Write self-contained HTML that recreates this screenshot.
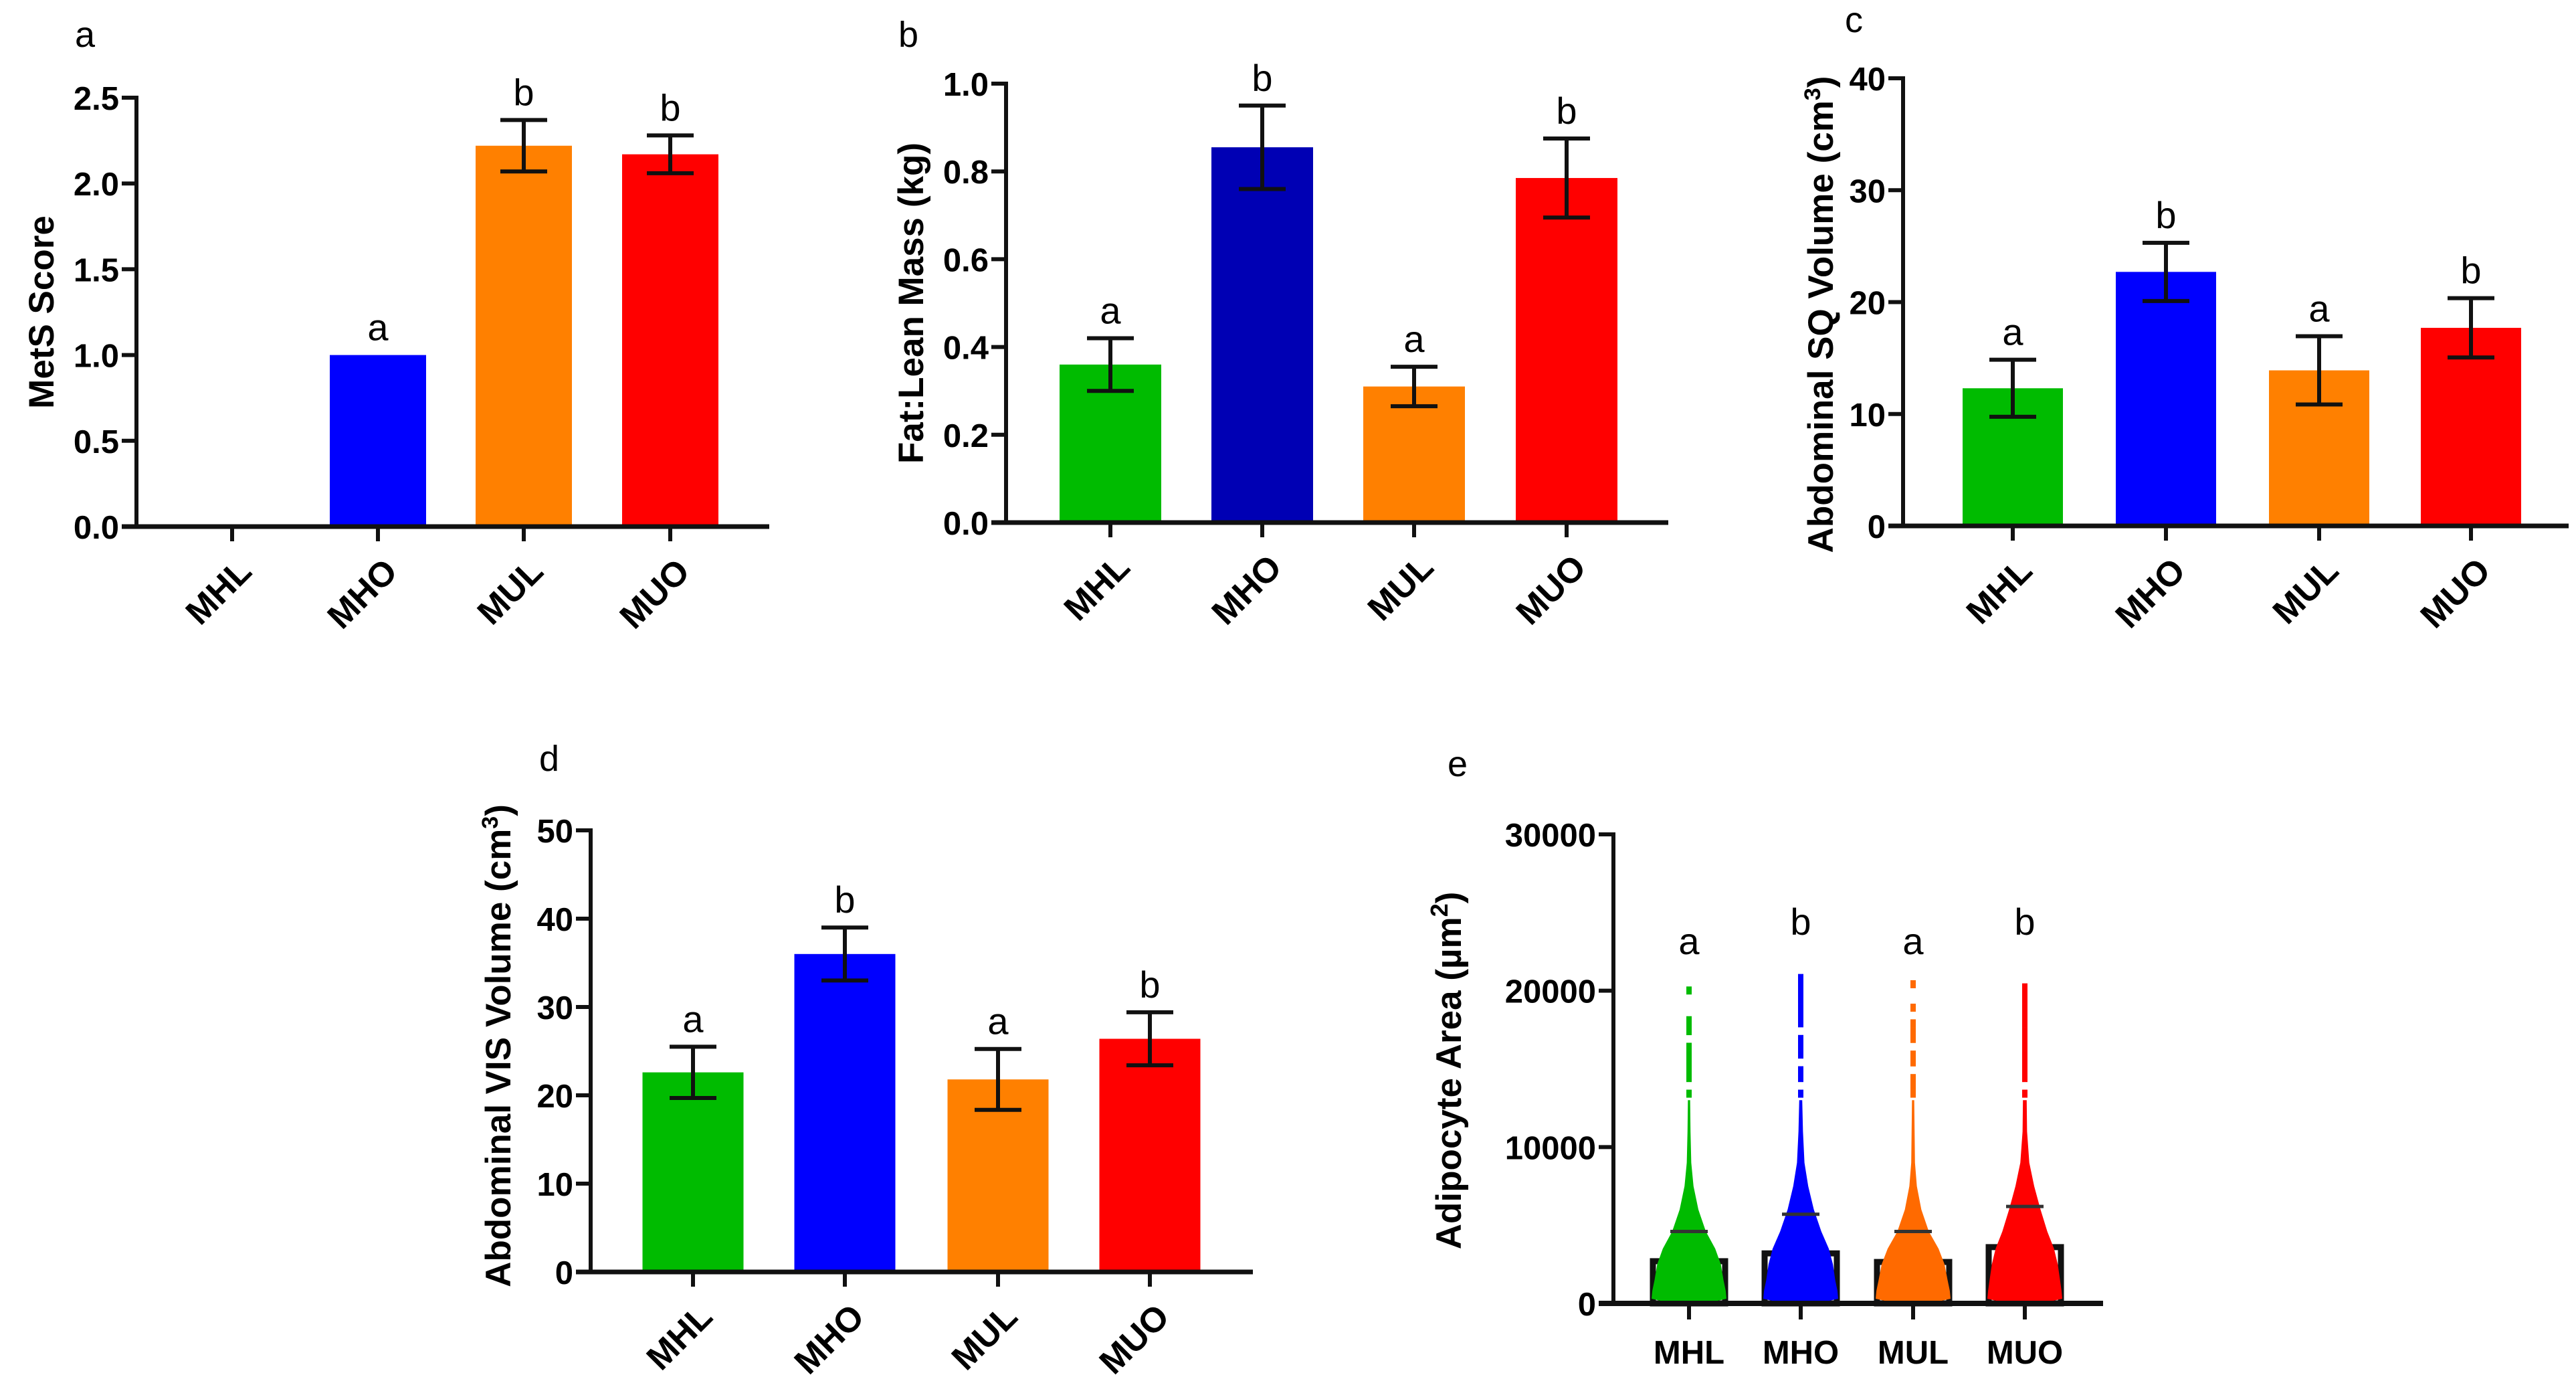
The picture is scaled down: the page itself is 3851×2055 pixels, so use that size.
<!DOCTYPE html>
<html><head><meta charset="utf-8"><style>
html,body{margin:0;padding:0;background:#fff}
svg{display:block}
text{font-family:"Liberation Sans",Arial,sans-serif;fill:#000}
.tk{font-weight:bold;font-size:49px}
.xl{font-weight:bold;font-size:52px}
.ttl{font-weight:bold;font-size:53px}
.sig{font-size:56px}
.pl{font-size:54px}
</style></head><body>
<svg id="fig" width="3851" height="2055" viewBox="0 0 3851 2055" xmlns="http://www.w3.org/2000/svg"></svg>
<script>
const cats = ["MHL","MHO","MUL","MUO"];
const colA = ["#00bb00","#0000ff","#ff8000","#ff0000"];
const colB = ["#00bb00","#0000b4","#ff8000","#ff0000"];
// panel a
const aVals = [0, 1.0, 2.22, 2.17];
const aErr = [0, 0, 0.15, 0.11];
const aSig = ["", "a", "b", "b"];
const aTicks = [0, 0.5, 1.0, 1.5, 2.0, 2.5];
const aTickLabels = ["0.0","0.5","1.0","1.5","2.0","2.5"];
// panel b
const bVals = [0.36, 0.855, 0.31, 0.785];
const bErr = [0.06, 0.095, 0.045, 0.09];
const bSig = ["a","b","a","b"];
const bTicks = [0,0.2,0.4,0.6,0.8,1.0];
const bTickLabels = ["0.0","0.2","0.4","0.6","0.8","1.0"];
// panel c
const cVals = [12.3, 22.7, 13.9, 17.7];
const cErr = [2.55, 2.6, 3.05, 2.65];
const cSig = ["a","b","a","b"];
const cTicks = [0,10,20,30,40];
const cTickLabels = ["0","10","20","30","40"];
// panel d
const dVals = [22.6, 36.0, 21.8, 26.4];
const dErr = [2.9, 3.0, 3.45, 3.0];
const dSig = ["a","b","a","b"];
const dTicks = [0,10,20,30,40,50];
const dTickLabels = ["0","10","20","30","40","50"];
// panel e
const eMeans = [2700, 3200, 2650, 3600];
const eSD = [4600, 5700, 4600, 6200];
const eMax = [20100, 20900, 20500, 20300];
const eSig = ["a","b","a","b"];
const eTicks = [0,10000,20000,30000];
const eTickLabels = ["0","10000","20000","30000"];
const eProfileVals = [0, 300, 800, 1500, 2500, 3500, 4600, 6000, 7500, 9000, 11000, 13000];
const eProfileW = [
 [0.45,1.0,0.98,0.92,0.85,0.7,0.45,0.25,0.12,0.06,0.04,0.03],
 [0.45,1.0,0.98,0.92,0.86,0.75,0.55,0.35,0.2,0.1,0.06,0.04],
 [0.45,1.0,0.98,0.92,0.84,0.68,0.42,0.22,0.1,0.05,0.04,0.03],
 [0.45,1.0,0.98,0.94,0.88,0.78,0.6,0.42,0.25,0.12,0.06,0.05]];
const eSparse = [
 [13500,14500,15000,15500,16000,16500,17500,17800,18200,20100],
 [13500,14500,15000,16000,16500,17000,18000,18500,19000,19500,20000,20500,20900],
 [13500,14000,14500,15500,16000,17000,17500,18000,19000,20500],
 [13500,14500,15000,15500,16000,16500,17000,17500,18000,18500,19000,19500,20000,20300]];

const NS="http://www.w3.org/2000/svg";
const svg=document.getElementById('fig');
function mk(tag,attrs,parent){const e=document.createElementNS(NS,tag);for(const k in attrs)e.setAttribute(k,attrs[k]);(parent||svg).appendChild(e);return e;}
function txt(s,attrs,parent){const e=mk('text',attrs,parent);e.textContent=s;return e;}

function barPanel(p){
  const g=mk('g',{});
  
  
  const y=v=>p.y0-(v-p.min)/(p.max-p.min)*(p.y0-p.y1);
  const pl=txt(p.letter,{x:p.lx,y:p.ly,class:'pl'},g);
  
  
  p.vals.forEach((v,i)=>{
    const cx=p.cx[i];
    if(v>0){
      const r=mk('rect',{x:cx-p.bw/2,y:y(v),width:p.bw,height:p.y0-y(v),fill:p.cols[i]},g);
      
      
    }
    let top=y(v);
    if(p.err[i]>0){
      const hi=y(v+p.err[i]),lo=y(v-p.err[i]);
      const e=mk('path',{d:`M${cx},${lo}V${hi}M${cx-35},${hi}H${cx+35}M${cx-35},${lo}H${cx+35}`,stroke:'#111','stroke-width':6,fill:'none'},g);
      
      
      top=hi;
    }
    if(p.sig[i]){
      const s=txt(p.sig[i],{x:cx,y:top-22,'text-anchor':'middle',class:'sig'},g);
      
      
    }
    const t=mk('line',{x1:cx,x2:cx,y1:p.y0,y2:p.y0+22,stroke:'#111','stroke-width':6},g);
    
    
    const lb=txt(cats[i],{transform:`translate(${cx+32},${p.y0+70}) rotate(-45)`,'text-anchor':'end',class:'xl'},g);
    
    
  });
  const ya=mk('line',{x1:p.x0,x2:p.x0,y1:p.y1-3,y2:p.y0+3,stroke:'#111','stroke-width':6},g);
  
  
  const xa=mk('line',{x1:p.x0-22,x2:p.xr,y1:p.y0,y2:p.y0,stroke:'#111','stroke-width':7},g);
  
  
  p.ticks.forEach((v,i)=>{
    const t=mk('line',{x1:p.x0-22,x2:p.x0,y1:y(v),y2:y(v),stroke:'#111','stroke-width':6},g);
    
    
    const l=txt(p.tl[i],{x:p.x0-26,y:y(v)+18,'text-anchor':'end',class:'tk'},g);
    
    
  });
  const ty=(p.y0+p.y1)/2;
  const tt=mk('text',{transform:`translate(${p.tx},${p.tty||ty}) rotate(-90)`,'text-anchor':'middle',class:'ttl'},g);
  
  
  tt.innerHTML=p.title;
}

barPanel({name:'panel-a-mets-score',letter:'a',lx:112,ly:70,x0:204,xr:1150,y0:787,y1:146,min:0,max:2.5,
  cx:[347,565,783,1002],bw:144,vals:aVals,err:aErr,sig:aSig,ticks:aTicks,tl:aTickLabels,cols:colA,
  tx:80,title:'MetS Score'});
barPanel({name:'panel-b-fat-lean',letter:'b',lx:1343,ly:70,x0:1504,xr:2494,y0:781,y1:125,min:0,max:1.0,
  cx:[1660,1887,2114,2342],bw:152,vals:bVals,err:bErr,sig:bSig,ticks:bTicks,tl:bTickLabels,cols:colB,
  tx:1380,title:'Fat:Lean Mass (kg)'});
barPanel({name:'panel-c-sq-volume',letter:'c',lx:2758,ly:48,x0:2845,xr:3840,y0:786,y1:117,min:0,max:40,
  cx:[3009,3238,3467,3694],bw:150,vals:cVals,err:cErr,sig:cSig,ticks:cTicks,tl:cTickLabels,cols:colA,
  tx:2740,tty:470,title:'Abdominal SQ Volume (cm<tspan baseline-shift="super" font-size="34">3</tspan>)'});
barPanel({name:'panel-d-vis-volume',letter:'d',lx:806,ly:1152,x0:883,xr:1873,y0:1901,y1:1241,min:0,max:50,
  cx:[1036,1263,1492,1719],bw:151,vals:dVals,err:dErr,sig:dSig,ticks:dTicks,tl:dTickLabels,cols:colA,
  tx:763,tty:1563,title:'Abdominal VIS Volume (cm<tspan baseline-shift="super" font-size="34">3</tspan>)'});

(function(){
  const g=mk('g',{});
  
  
  const x0=2412,xr=3144,y0=1948,y1=1247,max=30000;
  const cx=[2525,2692,2860,3027],bw=108,hw=56;
  const y=v=>y0-v/max*(y0-y1);
  const pl=txt('e',{x:2164,y:1160,class:'pl'},g);
  
  
  const cols=["#00bb00","#0000ff","#ff6a00","#ff0000"];
  cats.forEach((c,i)=>{
    const box=mk('rect',{x:cx[i]-bw/2,y:y(eMeans[i]),width:bw,height:y0-y(eMeans[i]),fill:'none',stroke:'#111','stroke-width':9},g);
    
    
    let left=[],right=[];
    eProfileVals.forEach((v,k)=>{left.push(`${cx[i]-eProfileW[i][k]*hw},${y(v)}`);right.unshift(`${cx[i]+eProfileW[i][k]*hw},${y(v)}`);});
    const poly=mk('polygon',{points:left.concat(right).join(' '),fill:cols[i]},g);
    
    
    eSparse[i].forEach(v=>{
      const d=mk('rect',{x:cx[i]-4,y:y(v)-4,width:8,height:12,fill:cols[i]},g);
      
      
    });
    const cap=mk('line',{x1:cx[i]-28,x2:cx[i]+28,y1:y(eSD[i]),y2:y(eSD[i]),stroke:'#333','stroke-width':5},g);
    
    
    const s=txt(eSig[i],{x:cx[i],y:(i%2?1397:1426),'text-anchor':'middle',class:'sig'},g);
    
    
    const t=mk('line',{x1:cx[i],x2:cx[i],y1:y0,y2:y0+24,stroke:'#111','stroke-width':6},g);
    
    
    const lb=txt(c,{x:cx[i],y:2038,'text-anchor':'middle',class:'tk','font-size':'58'},g);
    
    
  });
  const ya=mk('line',{x1:x0,x2:x0,y1:y1-3,y2:y0+3,stroke:'#111','stroke-width':6},g);
  
  
  const xa=mk('line',{x1:x0-22,x2:xr,y1:y0,y2:y0,stroke:'#111','stroke-width':8},g);
  
  
  eTicks.forEach((v,i)=>{
    const t=mk('line',{x1:x0-22,x2:x0,y1:y(v),y2:y(v),stroke:'#111','stroke-width':6},g);
    
    
    const l=txt(eTickLabels[i],{x:x0-26,y:y(v)+18,'text-anchor':'end',class:'tk'},g);
    
    
  });
  const tt=mk('text',{transform:`translate(2184,1600) rotate(-90)`,'text-anchor':'middle',class:'ttl','font-size':'58'},g);
  
  
  tt.innerHTML='Adipocyte Area (µm<tspan baseline-shift="super" font-size="36">2</tspan>)';
})();
</script>
</body></html>
